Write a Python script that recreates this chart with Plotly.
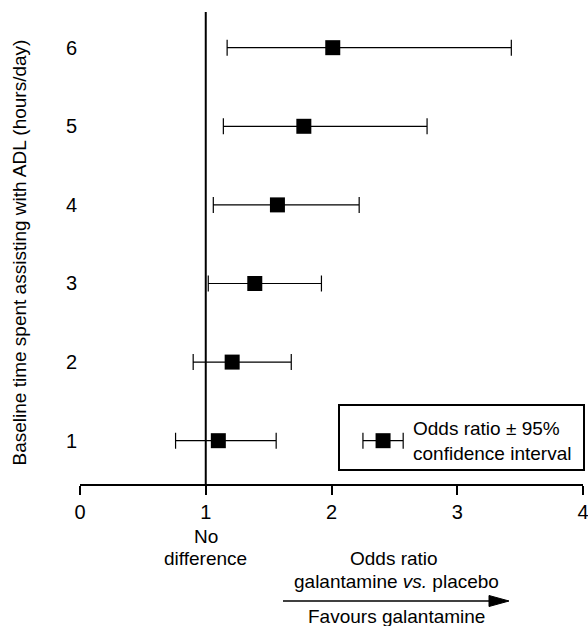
import plotly.graph_objects as go

# ---- data ----
hours = [1, 2, 3, 4, 5, 6]
odds_ratio = [1.10, 1.21, 1.39, 1.57, 1.78, 2.01]
ci_lower = [0.76, 0.90, 1.02, 1.06, 1.14, 1.17]
ci_upper = [1.56, 1.68, 1.92, 2.22, 2.76, 3.43]
x_ticks = [0, 1, 2, 3, 4]
y_ticks = [1, 2, 3, 4, 5, 6]

# legend sample glyph (odds ratio with whiskers)
legend_or = [2.41]
legend_minus = [0.16]
legend_plus = [0.16]
legend_y = [1.0]

FONT = "Liberation Sans, Arial, Helvetica, sans-serif"
W, H = 588, 626
L, R, T, B = 80, 5, 12, 142
PW, PH = W - L - R, H - T - B


def px(xp):
    return (xp - L) / PW


def py(yp):
    return (H - B - yp) / PH


fig = go.Figure()

fig.add_trace(go.Scatter(
    x=odds_ratio, y=hours, mode="markers",
    marker=dict(symbol="square", size=15, color="black"),
    error_x=dict(type="data", symmetric=False,
                 array=[u - o for u, o in zip(ci_upper, odds_ratio)],
                 arrayminus=[o - l for o, l in zip(odds_ratio, ci_lower)],
                 color="black", thickness=1.2, width=8),
    showlegend=False, hoverinfo="skip",
))

fig.add_trace(go.Scatter(
    x=legend_or, y=legend_y, mode="markers",
    marker=dict(symbol="square", size=15, color="black"),
    error_x=dict(type="data", symmetric=False, array=legend_plus,
                 arrayminus=legend_minus, color="black", thickness=1.2, width=8),
    showlegend=False, hoverinfo="skip",
))

shapes = [
    # no-difference line
    dict(type="line", xref="x", yref="paper", x0=1, x1=1, y0=0, y1=1,
         line=dict(color="black", width=2), layer="below"),
    # legend box
    dict(type="rect", xref="paper", yref="paper",
         x0=px(339), x1=px(584), y0=py(470), y1=py(405),
         line=dict(color="black", width=2), fillcolor="white", layer="below"),
    # favours arrow
    dict(type="line", xref="paper", yref="paper",
         x0=px(283), x1=px(492), y0=py(601), y1=py(601),
         line=dict(color="black", width=1.5)),
    dict(type="path", xref="paper", yref="paper",
         path=f"M {px(489)} {py(595.5)} L {px(509)} {py(601)} L {px(489)} {py(606.5)} Z",
         fillcolor="black", line=dict(color="black", width=1)),
]

annotations = [
    dict(text="Baseline time spent assisting with ADL (hours/day)",
         xref="paper", yref="paper", x=px(19), y=py(252.5), textangle=-90,
         showarrow=False, xanchor="center", yanchor="middle",
         font=dict(size=19, family=FONT, color="black")),
    dict(text="No", xref="paper", yref="paper", x=px(205.7), y=py(536.7),
         showarrow=False, xanchor="center", yanchor="middle",
         font=dict(size=19, family=FONT, color="black")),
    dict(text="difference", xref="paper", yref="paper", x=px(205.7), y=py(558),
         showarrow=False, xanchor="center", yanchor="middle",
         font=dict(size=19, family=FONT, color="black")),
    dict(text="Odds ratio", xref="paper", yref="paper", x=px(394), y=py(558),
         showarrow=False, xanchor="center", yanchor="middle",
         font=dict(size=19, family=FONT, color="black")),
    dict(text="galantamine <i>vs.</i> placebo", xref="paper", yref="paper",
         x=px(396), y=py(581.7), showarrow=False, xanchor="center", yanchor="middle",
         font=dict(size=19, family=FONT, color="black")),
    dict(text="Favours galantamine", xref="paper", yref="paper",
         x=px(396.5), y=py(616.7), showarrow=False, xanchor="center", yanchor="middle",
         font=dict(size=19, family=FONT, color="black")),
    dict(text="Odds ratio ± 95%<br>confidence interval", xref="paper", yref="paper",
         x=px(411), y=py(440.5), showarrow=False, xanchor="left", yanchor="middle",
         align="left", font=dict(size=19, family=FONT, color="black")),
]

fig.update_layout(
    width=W, height=H,
    margin=dict(l=L, r=R, t=T, b=B, pad=0, autoexpand=False),
    paper_bgcolor="white", plot_bgcolor="white",
    font=dict(family=FONT, color="black"),
    shapes=shapes, annotations=annotations,
    xaxis=dict(range=[0, 4], tickvals=x_ticks, showgrid=False, zeroline=False,
               showline=True, linecolor="black", linewidth=2,
               ticks="outside", ticklen=9, tickwidth=2, tickcolor="black",
               ticklabeloverflow="allow", automargin=False,
               tickfont=dict(size=20, family=FONT, color="black")),
    yaxis=dict(range=[0.449, 6.454], tickvals=y_ticks, showgrid=False, zeroline=False,
               showline=False, ticks="", ticklabelstandoff=2, automargin=False,
               tickfont=dict(size=20, family=FONT, color="black")),
)

fig.write_html("out.html", config={"displayModeBar": False},
               post_script="document.body.style.margin='0';")
